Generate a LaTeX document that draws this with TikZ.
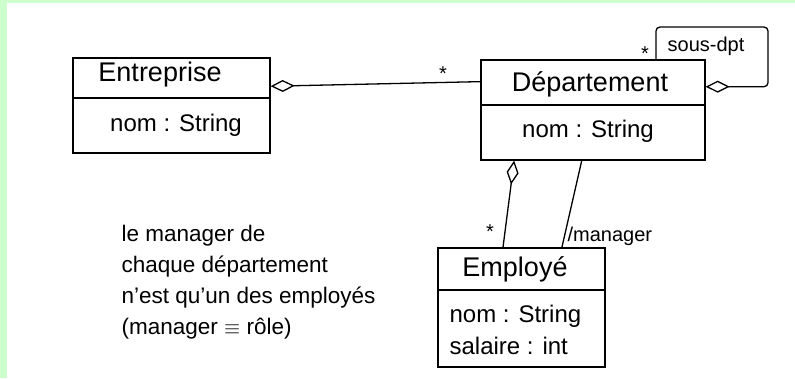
\documentclass[tikz,border=0pt]{standalone}
\usepackage{fontspec}
\setmainfont{Liberation Sans}
\usetikzlibrary{arrows.meta,calc}
\definecolor{bandgreen}{HTML}{CCFFCC}
\begin{document}
\begin{tikzpicture}[x=1pt,y=-1pt,line width=1.3pt,
  clsbox/.style={draw,inner sep=0pt},
  ttl/.style={font=\fontsize{27}{30}\selectfont,inner sep=0pt},
  attr/.style={font=\fontsize{24}{28}\selectfont,inner sep=0pt},
  lbl/.style={font=\fontsize{20}{22}\selectfont,inner sep=0pt},
  agg/.style={{Diamond[open,length=24pt,width=12pt,line width=1.3pt]}-},
  notetext/.style={font=\fontsize{22.5}{31}\selectfont,align=left,inner sep=0pt}]
\fill[bandgreen] (0,0) rectangle (795,378);
\fill[white] (7,3) rectangle (795,378);
\useasboundingbox (0,0) rectangle (795,378);

% Entreprise
\node[clsbox,minimum width=197pt,minimum height=95pt] (E) at (171.5,105.5) {};
\draw (E.west |- 0,98) -- (E.east |- 0,98);
\node[ttl] (Et) at (160,75) {Entreprise};
\node[attr] (Ea) at (176,125) {nom : String};

% Departement
\node[clsbox,minimum width=224pt,minimum height=100pt] (D) at (593,110) {};
\draw (D.west |- 0,105) -- (D.east |- 0,105);
\node[ttl] (Dt) at (590,84) {Département};
\node[attr] (Da) at (588,131) {nom : String};

% Employe
\node[clsbox,minimum width=167pt,minimum height=119pt] (M) at (521.5,307.5) {};
\draw (M.west |- 0,290) -- (M.east |- 0,290);
\node[ttl] (Mt) at (515,269) {Employé};
\node[attr,anchor=west] (Ma1) at (449,316) {nom : String};
\node[attr,anchor=west] (Ma2) at (449,346) {salaire : int};

% Entreprise -- Departement
\draw[agg] ($(E.north east)!0.3!(E.south east)$) -- ($(D.north west)!0.22!(D.south west)$);
\node[lbl] (s1) at (443,74) {*};

% self loop
\coordinate (ls) at ($(D.north east)!0.27!(D.south east)$);
\draw[agg,rounded corners=4pt] (ls) -- (ls -| 768,0) |- (656,27) -- (D.north -| 656,0);
\node[lbl] (s2) at (645,54) {*};
\node[lbl] (sd) at (706,46) {sous-dpt};

% Departement -- Employe (aggregation)
\draw[agg] ($(D.south west)!0.15!(D.south east)$) -- ($(M.north west)!0.39!(M.north east)$);
\node[lbl] (s3) at (490,232) {*};

% manager
\draw ($(D.south west)!0.45!(D.south east)$) -- ($(M.north west)!0.74!(M.north east)$);
\node[lbl,anchor=west] (mg) at (567,236) {/manager};

% note
\node[notetext,anchor=north west] (note) at (121,225) {le manager de\\chaque département\\n'est qu'un des employés\\(manager $\equiv$ rôle)};
\end{tikzpicture}
\end{document}
